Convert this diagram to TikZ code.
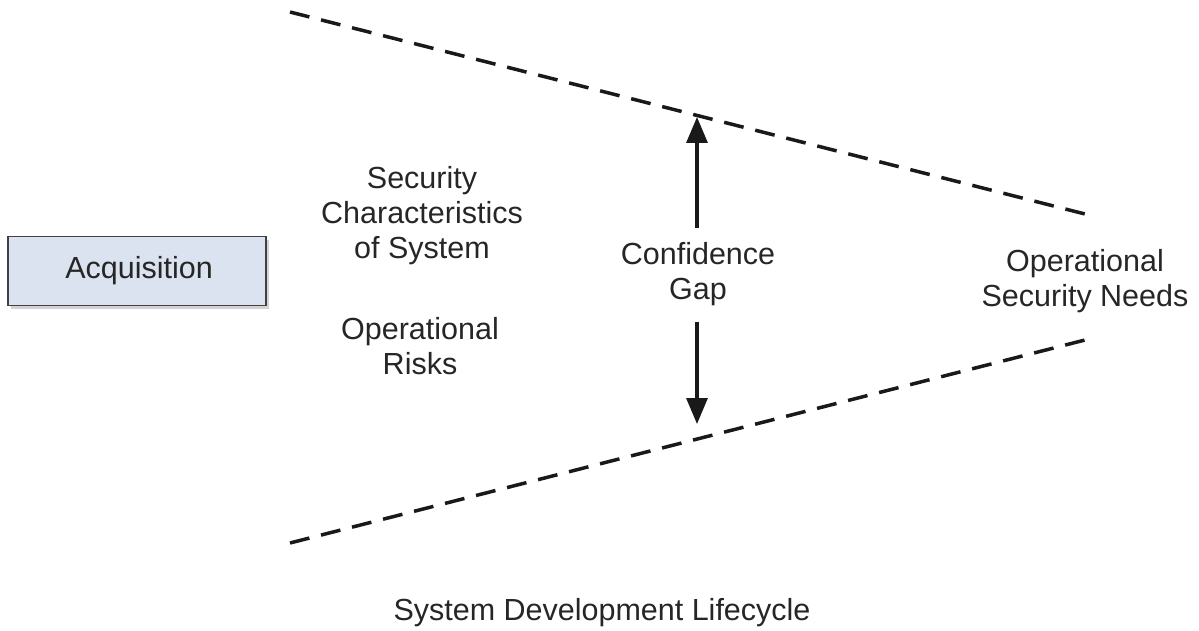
\documentclass[tikz,border=0pt]{standalone}
\usepackage{fontspec}
\setmainfont{Liberation Sans}
\usetikzlibrary{arrows.meta,shadows}
\begin{document}
\begin{tikzpicture}[x=1pt,y=-1pt,
  lbl/.style={font=\fontsize{30.5}{35}\selectfont, text=black!85, align=center, inner sep=0pt},
  gapline/.style={line width=3.5pt, dash pattern=on 20pt off 12pt, black!90},
  gaparrow/.style={line width=3.3pt, black!90, -{Triangle[length=26pt,width=21pt]}},
  phasebox/.style={draw=black!75, line width=1.3pt, fill={rgb,255:red,219;green,227;blue,240},
     minimum width=258pt, minimum height=69pt, inner sep=0pt,
     drop shadow={shadow xshift=3pt, shadow yshift=-3pt, opacity=0.35}}]
\useasboundingbox (0,0) rectangle (1199,631);
\coordinate (tl) at (290,12);
\coordinate (tr) at (1085,214);
\coordinate (bl) at (290,543);
\coordinate (br) at (1085,340);
\draw[gapline] (tl) -- (tr);
\draw[gapline] (bl) -- (br);
\node[phasebox] (acq) at (137,271) {};
\node[lbl] (acqt) at (139,271) {Acquisition};
\node[lbl] (sec) at (422,216) {Security\\Characteristics\\of System};
\node[lbl] (risk) at (420,346) {Operational\\Risks};
\node[lbl] (gap) at (698,274) {Confidence\\Gap};
\node[lbl] (needs) at (1085,281) {Operational\\Security Needs};
\node[lbl] (sdl) at (602,613) {System Development Lifecycle};
\coordinate (uptip) at (697,117);
\coordinate (downtip) at (697,424);
\coordinate (upstart) at (697,228);
\coordinate (downstart) at (697,322);
\draw[gaparrow] (upstart) -- (uptip);
\draw[gaparrow] (downstart) -- (downtip);
\end{tikzpicture}
\end{document}
